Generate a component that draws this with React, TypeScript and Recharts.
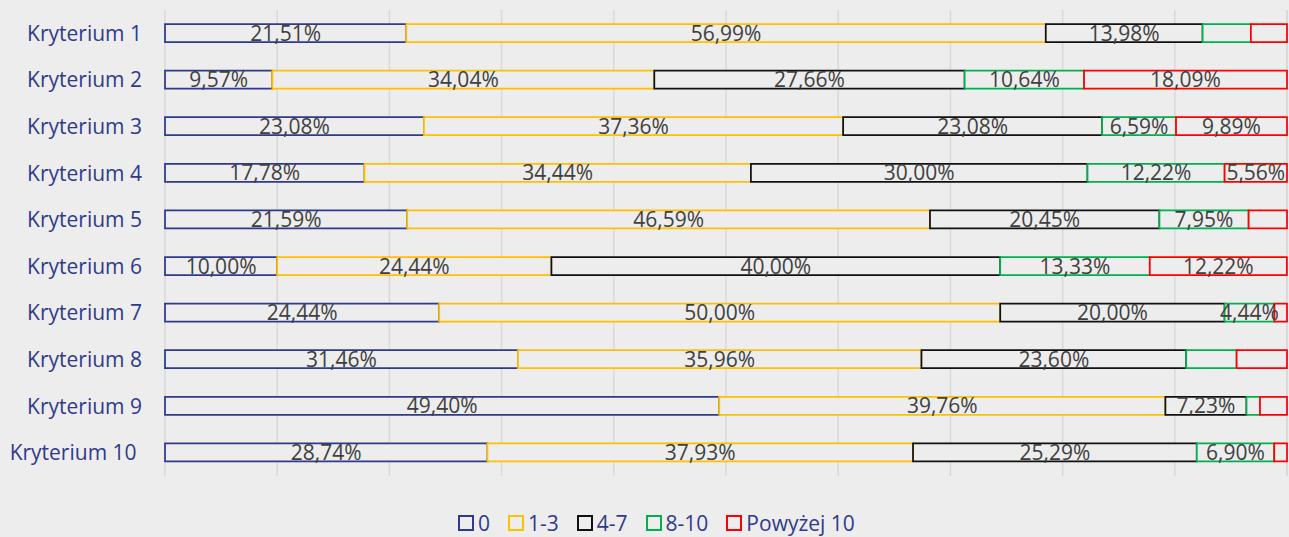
import React from 'react';
import { BarChart, Bar, XAxis, YAxis, CartesianGrid, Legend, LabelList } from 'recharts';

const categories = ['Kryterium 1', 'Kryterium 2', 'Kryterium 3', 'Kryterium 4', 'Kryterium 5', 'Kryterium 6', 'Kryterium 7', 'Kryterium 8', 'Kryterium 9', 'Kryterium 10\u00A0'];
const s0 = [21.51, 9.57, 23.08, 17.78, 21.59, 10.0, 24.44, 31.46, 49.4, 28.74];
const s13 = [56.99, 34.04, 37.36, 34.44, 46.59, 24.44, 50.0, 35.96, 39.76, 37.93];
const s47 = [13.98, 27.66, 23.08, 30.0, 20.45, 40.0, 20.0, 23.6, 7.23, 25.29];
const s810 = [4.3, 10.64, 6.59, 12.22, 7.95, 13.33, 4.44, 4.49, 1.2, 6.9];
const s10 = [3.22, 18.09, 9.89, 5.56, 3.42, 12.22, 1.12, 4.49, 2.41, 1.14];

const show0 = [true, true, true, true, true, true, true, true, true, true];
const show13 = [true, true, true, true, true, true, true, true, true, true];
const show47 = [true, true, true, true, true, true, true, true, true, true];
const show810 = [false, true, true, true, true, true, true, false, false, true];
const show10 = [false, true, true, true, false, true, false, false, false, false];

const seriesNames = ['0', '1-3', '4-7', '8-10', 'Powyżej 10'];
const seriesKeys = ['a', 'b', 'c', 'd', 'e'];
const seriesColors = ['#2F3B8A', '#FFC000', '#111111', '#00B050', '#FF0000'];
const seriesShow = [show0, show13, show47, show810, show10];
const xTicks = [0, 10, 20, 30, 40, 50, 60, 70, 80, 90, 100];

const data = categories.map((name, i) => ({
  name,
  a: s0[i],
  b: s13[i],
  c: s47[i],
  d: s810[i],
  e: s10[i],
}));

const BG = '#EDEDED';
const FONT = "'Open Sans', sans-serif";
const LABEL_BLUE = '#2F3B8A';

const fmt = (v: number) => v.toFixed(2).replace('.', ',') + '%';

const makeLabel = (si: number) => (props: any) => {
  const { x, y, width, height, value, index } = props;
  if (!seriesShow[si][index]) return null;
  return (
    <text
      x={Number(x) + Number(width) / 2}
      y={Number(y) + Number(height) / 2}
      dy="0.36em"
      textAnchor="middle"
      fill="#404040"
      fontSize={21}
      fontFamily={FONT}
    >
      {fmt(Number(value))}
    </text>
  );
};

const LegendContent = () => (
  <div
    style={{
      display: 'flex',
      alignItems: 'center',
      height: 24,
      paddingLeft: 458,
      fontFamily: FONT,
      fontSize: 21,
      lineHeight: '24px',
      color: LABEL_BLUE,
      whiteSpace: 'nowrap',
    }}
  >
    {seriesNames.map((n, i) => (
      <div key={n} style={{ display: 'flex', alignItems: 'center', marginRight: 18 }}>
        <div
          style={{
            width: 12,
            height: 12,
            border: `2px solid ${seriesColors[i]}`,
            marginRight: 4,
          }}
        />
        <span>{n}</span>
      </div>
    ))}
  </div>
);

export default function App() {
  return (
    <div style={{ position: 'fixed', left: 0, top: 0, width: 1289, height: 537, background: BG }}>
      <BarChart
        width={1289}
        height={537}
        data={data}
        layout="vertical"
        margin={{ top: 10, right: 2, left: 0, bottom: 37 }}
        barSize={18}
      >
        <CartesianGrid horizontal={false} vertical={true} stroke="#D9D9D9" strokeWidth={1.5} />
        <XAxis type="number" domain={[0, 100]} ticks={xTicks} hide />
        <YAxis
          type="category"
          dataKey="name"
          width={165}
          axisLine={false}
          tickLine={false}
          tickSize={0}
          tickMargin={23}
          tick={{ fill: LABEL_BLUE, fontSize: 21, fontFamily: FONT }}
          interval={0}
        />
        <Legend
          verticalAlign="bottom"
          content={<LegendContent />}
          wrapperStyle={{ top: 511, left: 0, width: 1289, height: 24 }}
        />
        {seriesKeys.map((k, i) => (
          <Bar
            key={k}
            dataKey={k}
            name={seriesNames[i]}
            stackId="s"
            fill={BG}
            stroke={seriesColors[i]}
            strokeWidth={1.75}
            isAnimationActive={false}
          >
            <LabelList dataKey={k} content={makeLabel(i)} />
          </Bar>
        ))}
      </BarChart>
    </div>
  );
}
